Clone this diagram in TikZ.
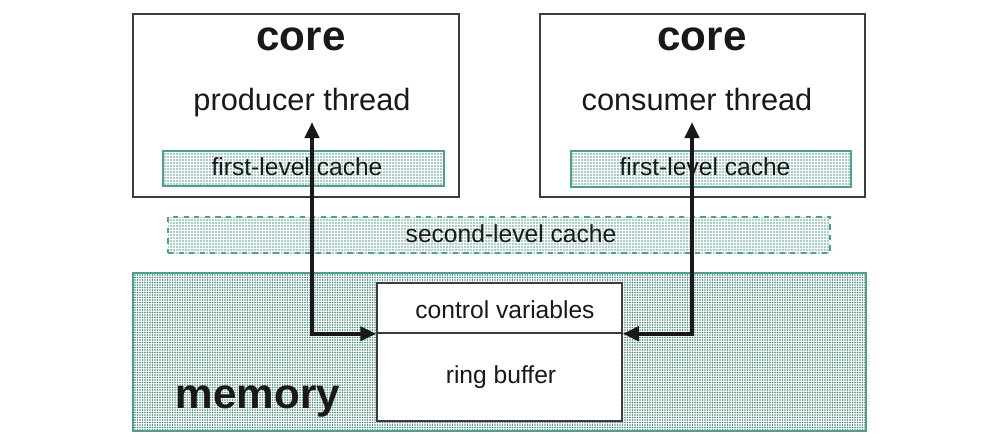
\documentclass[tikz,border=0pt]{standalone}
\usepackage{fontspec}
\setmainfont{Liberation Sans}
\usetikzlibrary{arrows.meta,patterns.meta,fit}
\definecolor{cachegreen}{RGB}{80,158,142}
\definecolor{framegray}{RGB}{60,60,60}
\tikzset{
  corebox/.style={draw=framegray, line width=0.3mm, inner sep=0},
  cachebox/.style={draw=cachegreen, line width=0.3mm, inner sep=0,
    pattern={Dots[distance=0.6mm,radius=0.16mm]}, pattern color=cachegreen},
  membox/.style={draw=cachegreen, line width=0.3mm, inner sep=0,
    pattern={Dots[distance=0.5mm,radius=0.18mm]}, pattern color=cachegreen!85!black},
  bufbox/.style={draw=framegray, fill=white, line width=0.3mm, inner sep=0},
  lbl/.style={anchor=base, font=\fontsize{14}{16}\selectfont, text=black!90},
  thread/.style={anchor=base, font=\fontsize{17.5}{20}\selectfont, text=black!90},
  bigbold/.style={anchor=base, font=\fontsize{24}{28}\selectfont\bfseries, text=black!90},
  link/.style={line width=0.8mm, draw=black!90,
    {Triangle[length=3.2mm,width=2.8mm]}-{Triangle[length=3.2mm,width=2.8mm]}}
}
\begin{document}
\begin{tikzpicture}[x=0.2mm, y=-0.2mm]
    \useasboundingbox (0,0) rectangle (1000,445);

    % cores
    \node[corebox, fit={(133,14) (459,197)}] (lcore) {};
    \node[corebox, fit={(540,14) (865,197)}] (rcore) {};
    \node[cachebox, fit={(163,151) (444,186)}] (lcache) {};
    \node[cachebox, fit={(571,151) (851,187)}] (rcache) {};
    \node[bigbold] (lcorelabel) at (301,50) {core};
    \node[bigbold] (rcorelabel) at (702,50) {core};
    \node[thread] (prod) at (302,110) {producer thread};
    \node[thread] (cons) at (697,110) {consumer thread};
    \node[lbl] (lcachelabel) at (297,175) {first-level cache};
    \node[lbl] (rcachelabel) at (705,175) {first-level cache};

    % shared cache and memory
    \node[cachebox, dashed, fit={(168,217) (830,253)}] (l2) {};
    \node[lbl] (l2label) at (511,242) {second-level cache};
    \node[membox, fit={(133,273) (866,431)}] (mem) {};
    \node[bigbold] (memlabel) at (258,408) {memory};
    \node[bufbox, fit={(377,283) (622,333)}] (ctrl) {};
    \node[bufbox, fit={(377,333) (622,421)}] (ring) {};
    \node[lbl] (ctrllabel) at (505,318) {control variables};
    \node[lbl] (ringlabel) at (501,383) {ring buffer};

    \coordinate (prodtip) at (312,122);
    \coordinate (constip) at (692,122);
    \draw[link] (prodtip) |- (ctrl.south west);
    \draw[link] (constip) |- (ctrl.south east);
\end{tikzpicture}
\end{document}
